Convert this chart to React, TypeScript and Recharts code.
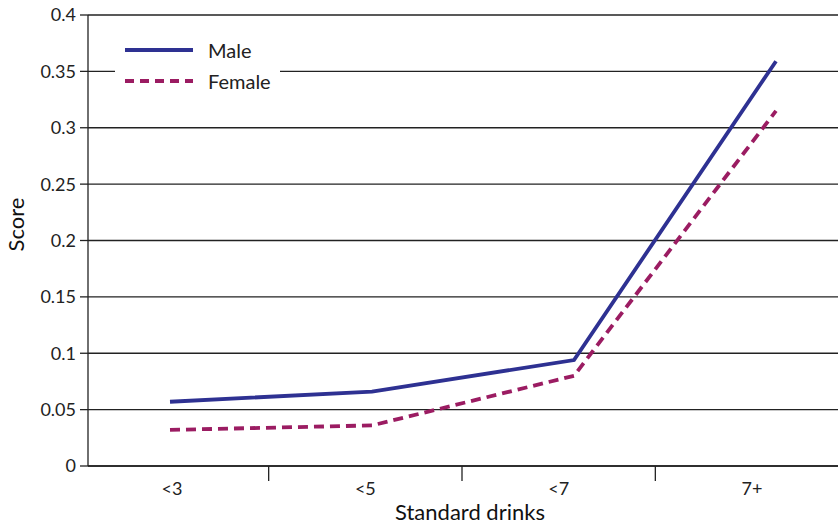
import React from "react";
import { LineChart, Line, XAxis, YAxis, CartesianGrid, Legend, Label } from "recharts";

const categories = ["<3", "<5", "<7", "7+"];
const maleScores = [0.057, 0.066, 0.094, 0.359];
const femaleScores = [0.032, 0.036, 0.08, 0.315];
const yTicks = [0, 0.05, 0.1, 0.15, 0.2, 0.25, 0.3, 0.35, 0.4];

const data = categories.map((c, i) => ({ drinks: c, male: maleScores[i], female: femaleScores[i] }));

const W = 838;
const H = 526;
const PLOT_W = W - 88;
// label axis padding (labels sit slightly left of the plotted points in the original)
const LBL_PAD_L = 84;
const LBL_PAD_R = 86;
const LBL_STEP = (PLOT_W - LBL_PAD_L - LBL_PAD_R) / (categories.length - 1);
const FONT = "Lato, 'Open Sans', sans-serif";
const MALE = "#2e3192";
const FEMALE = "#9b1c62";

function DrinkTick(props: any) {
  const { x, y, payload, index } = props;
  const last = index === categories.length - 1;
  return (
    <g>
      <text x={x} y={y + 29} textAnchor="middle" fontSize={18} fill="#222" fontFamily={FONT}>
        {payload.value}
      </text>
      {!last && (
        <line x1={x + LBL_STEP / 2} x2={x + LBL_STEP / 2} y1={y} y2={y + 15} stroke="#222" strokeWidth={1.3} />
      )}
    </g>
  );
}

function LegendBox() {
  const rows = [
    { name: "Male", color: MALE, dash: undefined },
    { name: "Female", color: FEMALE, dash: "9 6" },
  ];
  return (
    <div style={{ background: "#fff", width: 165, padding: "6px 0" }}>
      {rows.map((r) => (
        <div key={r.name} style={{ display: "flex", alignItems: "center", height: 31 }}>
          <svg width={78} height={10}>
            <line x1={10} x2={78} y1={5} y2={5} stroke={r.color} strokeWidth={4} strokeDasharray={r.dash} />
          </svg>
          <span style={{ marginLeft: 15, fontSize: 20, color: "#222", fontFamily: FONT }}>{r.name}</span>
        </div>
      ))}
    </div>
  );
}

export default function App() {
  return (
    <div style={{ position: "absolute", left: 0, top: 0, width: W, height: H, background: "#fff" }}>
      <LineChart width={W} height={H} data={data} margin={{ top: 15, right: 0, bottom: 0, left: 0 }}>
        <CartesianGrid vertical={false} stroke="#222" strokeWidth={1.3} />
        <XAxis dataKey="drinks" scale="point" padding={{ left: 82, right: 62 }} height={0} hide />
        <XAxis
          xAxisId="labels"
          dataKey="drinks"
          scale="point"
          padding={{ left: LBL_PAD_L, right: LBL_PAD_R }}
          height={60}
          tickLine={false}
          tickSize={0}
          tickMargin={0}
          axisLine={{ stroke: "#222", strokeWidth: 1.3 }}
          tick={<DrinkTick />}
        >
          <Label
            value="Standard drinks"
            position="insideBottom"
            offset={6}
            dx={7}
            fontSize={22}
            fill="#111"
            fontFamily={FONT}
          />
        </XAxis>
        <YAxis
          width={88}
          domain={[0, 0.4]}
          ticks={yTicks}
          interval={0}
          tickSize={8}
          tickMargin={4}
          tickLine={{ stroke: "#222", strokeWidth: 1.3 }}
          axisLine={{ stroke: "#222", strokeWidth: 1.3 }}
          tick={{ fontSize: 18, fill: "#222", fontFamily: FONT }}
        >
          <Label
            value="Score"
            angle={-90}
            position="insideLeft"
            offset={16}
            dy={-16}
            fontSize={22}
            fill="#111"
            fontFamily={FONT}
            style={{ textAnchor: "middle" }}
          />
        </YAxis>
        <Legend
          layout="vertical"
          align="center"
          verticalAlign="middle"
          content={<LegendBox />}
          wrapperStyle={{ left: 115, top: 28, width: 165 }}
        />
        <Line dataKey="male" name="Male" stroke={MALE} strokeWidth={3.8} dot={false} isAnimationActive={false} />
        <Line
          dataKey="female"
          name="Female"
          stroke={FEMALE}
          strokeWidth={3.8}
          strokeDasharray="10 6"
          dot={false}
          isAnimationActive={false}
        />
      </LineChart>
    </div>
  );
}
